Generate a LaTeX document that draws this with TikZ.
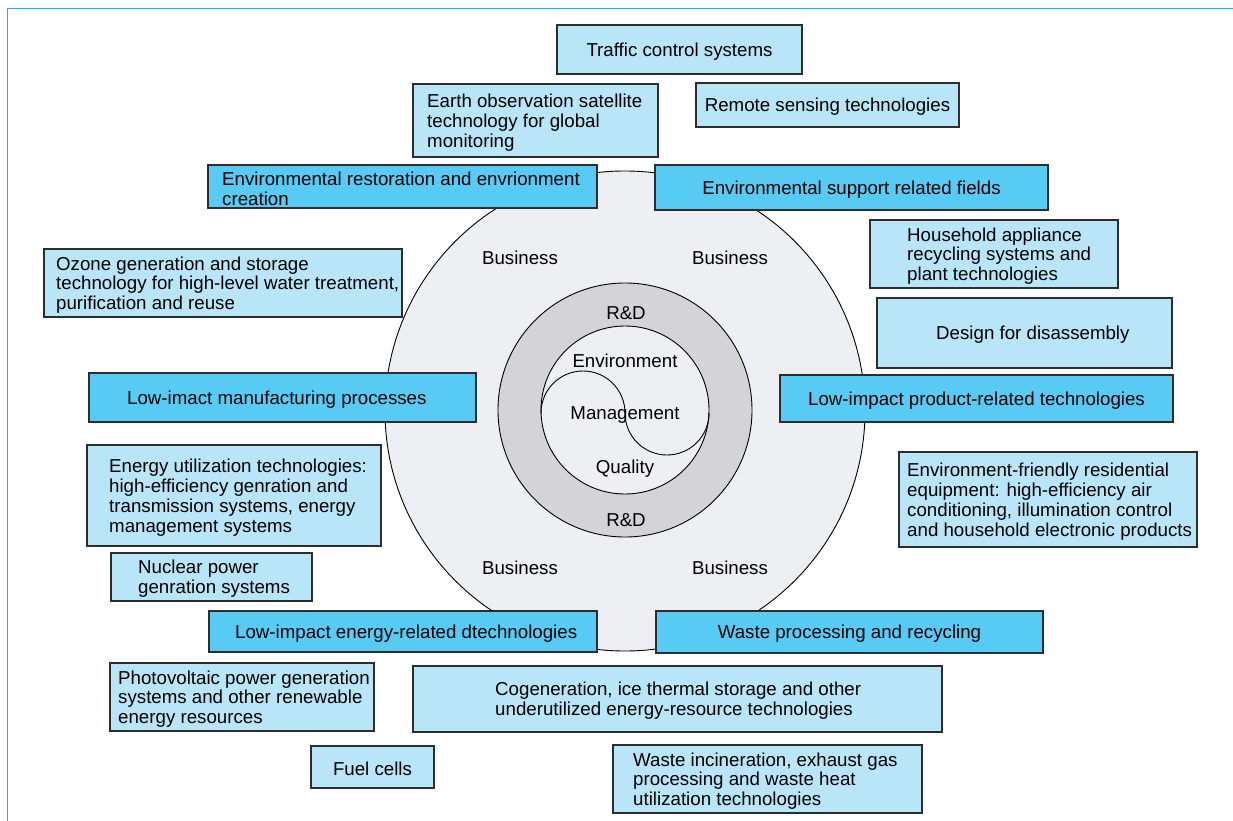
\documentclass[tikz,border=0pt]{standalone}
\usepackage{fontspec}
\setmainfont{Liberation Sans}
\definecolor{framecyan}{RGB}{20,176,232}
\definecolor{paleblue}{RGB}{185,229,249}
\definecolor{deepblue}{RGB}{88,203,245}
\definecolor{discgray}{RGB}{238,239,242}
\definecolor{ringgray}{RGB}{212,212,214}
\definecolor{edgegray}{RGB}{45,45,45}

% #1 name, #2 style, #3..#6 corners, #7 x of text start, #8 text
\newcommand\leftpanel[8]{%
  \node[#2, minimum width={#5-#3}, minimum height={#6-#4}] (#1)
    at ({(#3+#5)/2},{(#4+#6)/2}) {};
  \node[txt, anchor=west, align=left] (#1-t) at (#7,{(#4+#6)/2+2}) {#8};}
% #1 name, #2 style, #3..#6 corners, #7 text
\newcommand\midpanel[7]{%
  \node[#2, minimum width={#5-#3}, minimum height={#6-#4}] (#1)
    at ({(#3+#5)/2},{(#4+#6)/2}) {};
  \node[txt, align=center] (#1-t) at ([yshift=-2pt]#1.center) {#7};}

\begin{document}
\begin{tikzpicture}[x=1pt,y=-1pt,
  txt/.style={inner sep=0pt, font=\fontsize{18.7}{19.8}\selectfont},
  lightbox/.style={draw=edgegray, line width=1.2pt, fill=paleblue, inner sep=0pt},
  darkbox/.style={draw=edgegray, line width=1.2pt, fill=deepblue, inner sep=0pt}]
\useasboundingbox (0,0) rectangle (1233,821);

% frame
\draw[framecyan, line width=1.8pt] (7.5,822) -- (7.5,8.5) -- (1234,8.5);

% central discs
\coordinate (c) at (625,411);
\fill[discgray] (c) circle[radius=240];
\draw[line width=0.9pt] (c) circle[radius=240];
\fill[ringgray, even odd rule] (625,410) circle[radius=127] (625,410) circle[radius=84];
\draw[line width=0.9pt] (625,410) circle[radius=127];
\fill[discgray] (625,410) circle[radius=84];
\draw[line width=0.9pt] (625,410) circle[radius=84];
\draw[line width=0.9pt] (541,413) arc[start angle=180, end angle=360, radius=42]
  arc[start angle=180, end angle=0, radius=42];

% labels inside the discs
\node[txt] (b1) at (520,258) {Business};
\node[txt] (b2) at (730,258) {Business};
\node[txt] (b3) at (520,568) {Business};
\node[txt] (b4) at (730,568) {Business};
\node[txt] (rd1) at (626,313) {R\&D};
\node[txt] (rd2) at (626,520) {R\&D};
\node[txt] (env) at (625,361) {Environment};
\node[txt] (mgmt) at (625,415) {Management};
\node[txt] (qual) at (625,469) {Quality};

% technology fields
\midpanel{traffic}{lightbox}{557}{25}{802}{74}{Traffic control systems}
\midpanel{remote}{lightbox}{696}{83}{959}{127}{Remote sensing technologies}
\leftpanel{earth}{lightbox}{413}{84}{658}{157}{427}{Earth observation satellite\\technology for global\\monitoring}
\leftpanel{restore}{darkbox}{208}{165}{597}{208}{222}{Environmental restoration and envrionment\\creation}
\midpanel{support}{darkbox}{655}{165}{1048}{210}{Environmental support related fields}
\leftpanel{household}{lightbox}{870}{220}{1118}{288}{907}{Household appliance\\recycling systems and\\plant technologies}
\leftpanel{design}{lightbox}{877}{298}{1172}{368}{936}{Design for disassembly}
\leftpanel{ozone}{lightbox}{44}{249}{402}{317}{56}{Ozone generation and storage\\technology for high-level water treatment,\\purification and reuse}
\leftpanel{manuf}{darkbox}{89}{373}{476}{422}{127}{Low-imact manufacturing processes}
\midpanel{product}{darkbox}{780}{375}{1173}{422}{Low-impact product-related technologies}
\leftpanel{energyuse}{lightbox}{87}{445}{381}{546}{109}{Energy utilization technologies:\\high-efficiency genration and\\transmission systems, energy\\management systems}
\leftpanel{residential}{lightbox}{899}{452}{1197}{547}{907}{Environment-friendly residential\\equipment: high-efficiency air\\conditioning, illumination control\\and household electronic products}
\leftpanel{nuclear}{lightbox}{111}{553}{312}{601}{138}{Nuclear power\\genration systems}
\leftpanel{energy}{darkbox}{209}{611}{597}{652}{235}{Low-impact energy-related dtechnologies}
\midpanel{waste}{darkbox}{656}{611}{1043}{653}{Waste processing and recycling}
\leftpanel{pv}{lightbox}{110}{663}{374}{731}{118}{Photovoltaic power generation\\systems and other renewable\\energy resources}
\leftpanel{cogen}{lightbox}{413}{666}{942}{732}{495}{Cogeneration, ice thermal storage and other\\underutilized energy-resource technologies}
\midpanel{fuel}{lightbox}{311}{746}{434}{788}{Fuel cells}
\leftpanel{incin}{lightbox}{613}{745}{922}{813}{633}{Waste incineration, exhaust gas\\processing and waste heat\\utilization technologies}
\end{tikzpicture}
\end{document}
